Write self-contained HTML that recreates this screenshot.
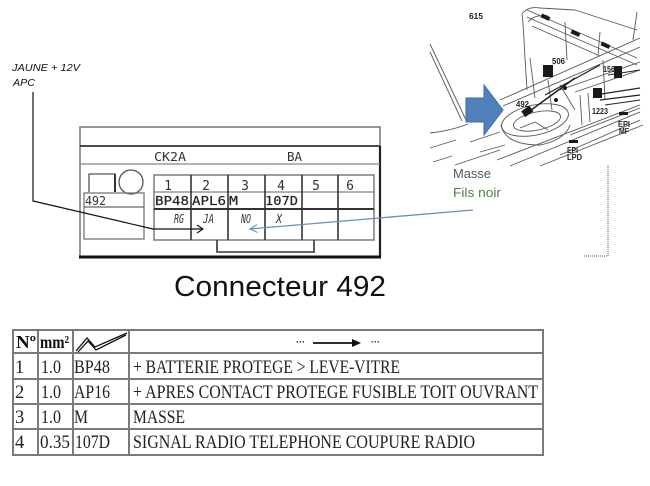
<!DOCTYPE html>
<html><head><meta charset="utf-8">
<style>html,body{margin:0;padding:0;background:#fff;}svg{display:block}</style></head>
<body>
<svg width="650" height="486" viewBox="0 0 650 486" xmlns="http://www.w3.org/2000/svg">
<rect width="650" height="486" fill="#fff"/>

<!-- Top-left label -->
<text x="12" y="71" font-family="Liberation Sans, sans-serif" font-style="italic" font-size="10.5" textLength="68" lengthAdjust="spacingAndGlyphs" fill="#111">JAUNE + 12V</text>
<text x="13" y="86" font-family="Liberation Sans, sans-serif" font-style="italic" font-size="10.5" textLength="22" lengthAdjust="spacingAndGlyphs" fill="#111">APC</text>

<!-- Connector drawing -->
<rect x="80" y="127" width="300" height="130" fill="none" stroke="#777" stroke-width="1.5"/>
<line x1="380" y1="146" x2="380" y2="257" stroke="#222" stroke-width="2.2"/>
<line x1="79" y1="257" x2="381" y2="257" stroke="#111" stroke-width="3"/>
<line x1="80" y1="146" x2="380" y2="146" stroke="#333" stroke-width="1.8"/>
<line x1="80" y1="164" x2="380" y2="164" stroke="#888" stroke-width="1.2"/>
<text x="154" y="161" font-family="DejaVu Sans Mono, monospace" font-size="12" textLength="32" lengthAdjust="spacingAndGlyphs" fill="#333">CK2A</text>
<text x="287" y="161" font-family="DejaVu Sans Mono, monospace" font-size="12" textLength="15" lengthAdjust="spacingAndGlyphs" fill="#333">BA</text>

<path d="M89,192 V174 H115 V192" fill="none" stroke="#555" stroke-width="1.3"/>
<line x1="115" y1="174" x2="115" y2="192" stroke="#333" stroke-width="2"/>
<circle cx="131" cy="182" r="12" fill="none" stroke="#555" stroke-width="1.3"/>

<rect x="84" y="193" width="60" height="46" fill="none" stroke="#777" stroke-width="1.3"/>
<line x1="84" y1="207" x2="144" y2="207" stroke="#666" stroke-width="1.2"/>
<text x="85" y="205" font-family="DejaVu Sans Mono, monospace" font-size="12" textLength="21" lengthAdjust="spacingAndGlyphs" fill="#333">492</text>

<rect x="154" y="175" width="220" height="65" fill="none" stroke="#666" stroke-width="1.3"/>
<line x1="154" y1="192" x2="374" y2="192" stroke="#666" stroke-width="1.1"/>
<line x1="154" y1="209" x2="374" y2="209" stroke="#333" stroke-width="2"/>
<g stroke="#333" stroke-width="1.6">
<line x1="191" y1="175" x2="191" y2="240"/>
<line x1="228" y1="175" x2="228" y2="240"/>
<line x1="265" y1="175" x2="265" y2="240"/>
<line x1="302" y1="175" x2="302" y2="240"/>
<line x1="338" y1="175" x2="338" y2="240"/>
</g>
<g font-family="DejaVu Sans Mono, monospace" font-size="13" fill="#333" text-anchor="middle">
<text x="168" y="190">1</text>
<text x="206" y="190">2</text>
<text x="245" y="190">3</text>
<text x="281" y="190">4</text>
<text x="316" y="190">5</text>
<text x="350" y="190">6</text>
</g>
<g font-family="DejaVu Sans Mono, monospace" font-size="12.5" fill="#222" stroke="#222" stroke-width="0.2">
<text x="155" y="205" textLength="34" lengthAdjust="spacingAndGlyphs">BP48</text>
<text x="192" y="205" textLength="34" lengthAdjust="spacingAndGlyphs">APL6</text>
<text x="229" y="205" textLength="9" lengthAdjust="spacingAndGlyphs">M</text>
<text x="265" y="205" textLength="33" lengthAdjust="spacingAndGlyphs">107D</text>
</g>
<g font-family="DejaVu Sans Mono, monospace" font-size="12" font-style="italic" fill="#333">
<text x="174" y="223" textLength="10" lengthAdjust="spacingAndGlyphs">RG</text>
<text x="203" y="223" textLength="11" lengthAdjust="spacingAndGlyphs">JA</text>
<text x="241" y="223" textLength="10" lengthAdjust="spacingAndGlyphs">NO</text>
<text x="276" y="223" textLength="6" lengthAdjust="spacingAndGlyphs">X</text>
</g>
<path d="M217,240 V252 H314 V240" fill="none" stroke="#333" stroke-width="1.6"/>

<!-- Black arrow -->
<polyline points="33,92 33,201 153,229 203,229" fill="none" stroke="#111" stroke-width="1.2"/>
<polyline points="197,225 203,229 197,233" fill="none" stroke="#111" stroke-width="1.1"/>

<!-- Blue arrow -->
<line x1="473" y1="210" x2="250" y2="229" stroke="#6b8fb8" stroke-width="1.3"/>
<polyline points="257,224.5 250,229 257.6,232.5" fill="none" stroke="#6b8fb8" stroke-width="1.1"/>

<!-- Masse text -->
<text x="453" y="178" font-family="Liberation Sans, sans-serif" font-size="13" fill="#4d5d55" textLength="38" lengthAdjust="spacingAndGlyphs">Masse</text>
<text x="453" y="197" font-family="Liberation Sans, sans-serif" font-size="13" fill="#4f7f45" textLength="48" lengthAdjust="spacingAndGlyphs">Fils noir</text>

<!-- Dotted line -->
<path d="M608,165 V256 H583" fill="none" stroke="#555" stroke-width="1" stroke-dasharray="1,1"/>

<!-- Connecteur 492 -->
<text x="174" y="296" font-family="Liberation Sans, sans-serif" font-size="29" textLength="212" lengthAdjust="spacingAndGlyphs" fill="#111">Connecteur 492</text>

<!-- Top-right line drawing -->
<g fill="none" stroke="#5a5a5a" stroke-width="0.9">
<line x1="430" y1="44" x2="466" y2="120"/>
<line x1="430" y1="52" x2="462" y2="121"/>
<path d="M430,133 Q450,131 468,124"/>
<line x1="430" y1="148" x2="456" y2="140"/>
<line x1="433" y1="162" x2="452" y2="156"/>
<path d="M522,14 C524,30 524,45 525,58 L527,90"/>
<path d="M522,14 Q528,6 540,8 L575,10"/>
<path d="M528,22 Q535,14 548,16"/>
<line x1="527" y1="10" x2="637" y2="58"/>
<line x1="527" y1="17" x2="637" y2="65"/>
<line x1="532" y1="26" x2="600" y2="56"/>
<line x1="565" y1="22" x2="567" y2="60"/>
<line x1="600" y1="32" x2="598" y2="55"/>
<line x1="637" y1="12" x2="633" y2="40"/>
<line x1="575" y1="10" x2="637" y2="30"/>
<line x1="530" y1="58" x2="535" y2="98"/>
<line x1="603" y1="60" x2="605" y2="100"/>
<line x1="500" y1="100" x2="640" y2="38"/>
<line x1="503" y1="106" x2="640" y2="47"/>
<line x1="560" y1="90" x2="640" y2="62"/>
<line x1="575" y1="92" x2="640" y2="70"/>
<line x1="497" y1="160" x2="640" y2="105"/>
<line x1="510" y1="166" x2="640" y2="112"/>
<line x1="540" y1="166" x2="643" y2="125"/>
<line x1="455" y1="165" x2="500" y2="150"/>
<line x1="560" y1="155" x2="640" y2="120"/>
<line x1="470" y1="142" x2="500" y2="132"/>
<line x1="480" y1="152" x2="505" y2="145"/>
<line x1="570" y1="135" x2="640" y2="108"/>
<ellipse cx="535" cy="120" rx="34" ry="15" transform="rotate(-12 535 120)"/>
<ellipse cx="537" cy="121" rx="24" ry="9" transform="rotate(-12 537 121)"/>
<path d="M501,125 Q505,145 540,145 Q565,140 570,125"/>
<path d="M520,128 L535,122 L548,130"/>
<line x1="580" y1="95" x2="582" y2="125"/>
<line x1="588" y1="93" x2="590" y2="122"/>
<line x1="548" y1="80" x2="552" y2="110"/>
<line x1="560" y1="85" x2="575" y2="110"/>
</g>
<g stroke="#222" fill="none">
<line x1="527" y1="113" x2="575" y2="78" stroke-width="1.5"/>
<line x1="545" y1="95" x2="600" y2="65" stroke-width="1.2"/>
<line x1="595" y1="95" x2="640" y2="88" stroke-width="1.2"/>
<line x1="600" y1="100" x2="640" y2="95" stroke-width="1.2"/>
<line x1="605" y1="105" x2="640" y2="100" stroke-width="1"/>
<line x1="608" y1="75" x2="640" y2="70" stroke-width="1"/>
</g>
<g fill="#1a1a1a">
<rect x="522" y="108" width="10" height="7" transform="rotate(-35 527 111)"/>
<rect x="543" y="65" width="10" height="12"/>
<rect x="593" y="88" width="9" height="10"/>
<rect x="614" y="66" width="8" height="12"/>
<rect x="619" y="112" width="9" height="3"/>
<rect x="569" y="140" width="9" height="3"/>
<rect x="541" y="15" width="9" height="4" transform="rotate(24 545 17)"/>
<rect x="571" y="31" width="9" height="4" transform="rotate(24 575 33)"/>
<rect x="601" y="43" width="9" height="4" transform="rotate(24 605 45)"/>
<circle cx="565" cy="88" r="2"/>
<circle cx="556" cy="100" r="2"/>
</g>
<g font-family="Liberation Sans, sans-serif" font-weight="bold" font-size="8" fill="#222">
<text x="469" y="19" textLength="14" lengthAdjust="spacingAndGlyphs">615</text>
<text x="552" y="64" textLength="13" lengthAdjust="spacingAndGlyphs">506</text>
<text x="603" y="72" textLength="12" lengthAdjust="spacingAndGlyphs">156</text>
<text x="516" y="107" textLength="13" lengthAdjust="spacingAndGlyphs">492</text>
<text x="592" y="114" textLength="16" lengthAdjust="spacingAndGlyphs">1223</text>
<text x="618" y="127" textLength="12" lengthAdjust="spacingAndGlyphs">EPI</text>
<text x="619" y="134" textLength="10" lengthAdjust="spacingAndGlyphs">MF</text>
<text x="567" y="153" textLength="11" lengthAdjust="spacingAndGlyphs">EPI</text>
<text x="567" y="160" textLength="15" lengthAdjust="spacingAndGlyphs">LPD</text>
</g>
<polygon points="466,98 484,98 484,85 503,110 484,135 484,122 466,122" fill="#4f81bd" stroke="#3c6a9f" stroke-width="1"/>

<!-- Table -->
<g stroke="#7a7a7a" stroke-width="2" fill="none">
<rect x="13" y="330" width="530" height="125"/>
<line x1="13" y1="353" x2="543" y2="353"/>
<line x1="13" y1="379" x2="543" y2="379"/>
<line x1="13" y1="404" x2="543" y2="404"/>
<line x1="13" y1="429" x2="543" y2="429"/>
<line x1="38" y1="330" x2="38" y2="455"/>
<line x1="73" y1="330" x2="73" y2="455"/>
<line x1="129" y1="330" x2="129" y2="455"/>
</g>
<g font-family="Liberation Serif, serif" font-weight="bold" font-size="18" fill="#111">
<text x="16" y="348" textLength="20" lengthAdjust="spacingAndGlyphs">Nº</text>
<text x="40" y="348" textLength="29" lengthAdjust="spacingAndGlyphs">mm²</text>
</g>
<g fill="none" stroke="#111" stroke-width="1.3">
<polyline points="76,351 87,338 95,347 127,333"/>
<polyline points="78,352 88,341 96,350 126,335"/>
</g>
<g fill="#111">
<text x="296" y="345" font-family="Liberation Sans, sans-serif" font-weight="bold" font-size="9">···</text>
<line x1="313" y1="343" x2="353" y2="343" stroke="#111" stroke-width="1.8"/>
<polygon points="352,339 361,343 352,347"/>
<text x="371" y="345" font-family="Liberation Sans, sans-serif" font-weight="bold" font-size="9">···</text>
</g>
<g font-family="Liberation Serif, serif" font-size="18.5" fill="#222">
<text x="15" y="373">1</text>
<text x="41" y="373" textLength="20" lengthAdjust="spacingAndGlyphs">1.0</text>
<text x="74" y="373" textLength="36" lengthAdjust="spacingAndGlyphs">BP48</text>
<text x="133" y="373" textLength="267" lengthAdjust="spacingAndGlyphs">+ BATTERIE PROTEGE &gt; LEVE-VITRE</text>
<text x="15" y="398">2</text>
<text x="41" y="398" textLength="20" lengthAdjust="spacingAndGlyphs">1.0</text>
<text x="74" y="398" textLength="36" lengthAdjust="spacingAndGlyphs">AP16</text>
<text x="133" y="398" textLength="405" lengthAdjust="spacingAndGlyphs">+ APRES CONTACT PROTEGE FUSIBLE TOIT OUVRANT</text>
<text x="15" y="423">3</text>
<text x="41" y="423" textLength="20" lengthAdjust="spacingAndGlyphs">1.0</text>
<text x="74" y="423" textLength="14" lengthAdjust="spacingAndGlyphs">M</text>
<text x="133" y="423" textLength="52" lengthAdjust="spacingAndGlyphs">MASSE</text>
<text x="15" y="448">4</text>
<text x="40" y="448" textLength="30" lengthAdjust="spacingAndGlyphs">0.35</text>
<text x="75" y="448" textLength="35" lengthAdjust="spacingAndGlyphs">107D</text>
<text x="133" y="448" textLength="342" lengthAdjust="spacingAndGlyphs">SIGNAL RADIO TELEPHONE COUPURE RADIO</text>
</g>
</svg>
</body></html>
